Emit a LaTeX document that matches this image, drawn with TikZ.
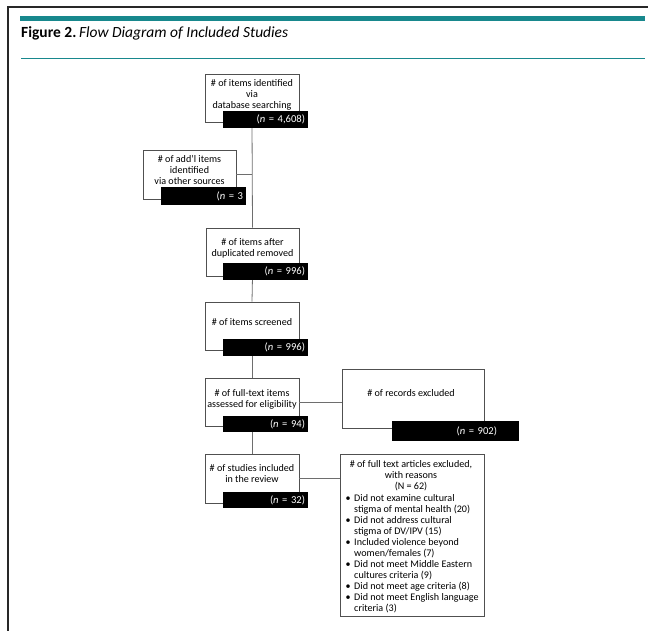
\documentclass[tikz,border=0pt]{standalone}
\usepackage{fontspec}
\setmainfont{Carlito}
\definecolor{figteal}{RGB}{24,136,141}
\definecolor{boxline}{RGB}{80,80,80}
\definecolor{connline}{RGB}{110,110,110}
\definecolor{framecol}{RGB}{40,40,40}

\begin{document}
\begin{tikzpicture}[x=1pt,y=-1pt,
	box/.style={draw=boxline,fill=white,line width=0.8pt,inner sep=0pt},
	bar/.style={fill=black,text=white,inner ysep=0pt,inner xsep=3pt,align=right,minimum height=17pt,font=\fontsize{10.6}{11}\selectfont},
	txt/.style={inner sep=0pt,align=center,font=\fontsize{10.1}{11}\selectfont},
	conn/.style={draw=connline,line width=0.8pt}]
	\useasboundingbox (0,0) rectangle (648,631);

	% frame and heading
	\draw[framecol,line width=1.4pt] (8,631) -- (8,7) -- (648,7);
	\fill[figteal] (20,16) rectangle (645,21.5);
	\draw[figteal,line width=0.8pt] (21,58) -- (645,58);
	\node[anchor=base west,inner sep=0pt,font=\fontsize{15.5}{15}\selectfont] (title) at (21,38) {\textbf{Figure 2.}\textit{\,Flow Diagram of Included Studies}};

	% boxes
	\node[box,minimum width=94pt,minimum height=48pt] (items) at (252,98) {};
	\node[box,minimum width=93pt,minimum height=49pt] (addl) at (189.5,174.5) {};
	\node[box,minimum width=93pt,minimum height=48pt] (dupl) at (252.5,252) {};
	\node[box,minimum width=94pt,minimum height=48pt] (screen) at (252,326) {};
	\node[box,minimum width=94pt,minimum height=48pt] (fulltext) at (252,402) {};
	\node[box,minimum width=94pt,minimum height=49pt] (incl) at (252,478.5) {};
	\node[box,minimum width=142pt,minimum height=59pt] (excl) at (413,398.5) {};
	\node[box,minimum width=144pt,minimum height=162pt] (reasons) at (412,535) {};

	% connectors
	\draw[conn] (items.south) -- (dupl.north);
	\draw[conn] (addl.east) -- (addl.east -| items.south);
	\draw[conn] (dupl.south) -- (screen.north);
	\draw[conn] (screen.south) -- (fulltext.north);
	\draw[conn] (fulltext.south) -- (incl.north);
	\draw[conn] (fulltext.east) -- (excl.west |- fulltext.east);
	\draw[conn] (incl.east) -- (reasons.west |- incl.east);

	% black count bars
	\node[bar,text width=79pt] (bar1) at (265.5,119.5) {(\textit{n} = 4,608)};
	\node[bar,text width=79pt,minimum height=18pt] (bar2) at (203.5,196) {(\textit{n} = 3};
	\node[bar,text width=79pt] (bar3) at (265.5,271.5) {(\textit{n} = 996)};
	\node[bar,text width=79pt] (bar4) at (265.5,347.5) {(\textit{n} = 996)};
	\node[bar,text width=79pt,minimum height=16pt] (bar5) at (265.5,424) {(\textit{n} = 94)};
	\node[bar,text width=79pt,minimum height=16pt] (bar6) at (265.5,500) {(\textit{n} = 32)};
	\node[bar,text width=121pt,minimum height=20pt] (bar7) at (455.5,431) {(\textit{n} = 902)\hspace*{19pt}};

	% box texts
	\node[txt,anchor=north] (itemstxt) at (252,79.5) {\# of items identified\\via\\database searching};
	\node[txt,anchor=north] (addltxt) at (189.5,155.5) {\# of add’l items\\identified\\via other sources};
	\node[txt,anchor=north] (dupltxt) at (252.5,238.5) {\# of items after\\duplicated removed};
	\node[txt,anchor=north] (screentxt) at (252,318.5) {\# of items screened};
	\node[txt,anchor=north] (fulltexttxt) at (252,389.5) {\# of full-text items\\assessed for eligibility};
	\node[txt,anchor=north] (excltxt) at (411,389.5) {\# of records excluded};
	\node[txt,anchor=north] (incltxt) at (252,464.5) {\# of studies included\\in the review};
	\node[txt,anchor=north] (reasonhead) at (411,460.5) {\# of full text articles excluded,\\with reasons\\(N = 62)};
	\node[txt,anchor=north west,align=left] (reasonlist) at (345.5,493.5) {\begin{tabular}{@{}l@{\hspace{3.5pt}}l@{}}
		\textbullet & Did not examine cultural\\
		 & stigma of mental health (20)\\
		\textbullet & Did not address cultural\\
		 & stigma of DV/IPV (15)\\
		\textbullet & Included violence beyond\\
		 & women/females (7)\\
		\textbullet & Did not meet Middle Eastern\\
		 & cultures criteria (9)\\
		\textbullet & Did not meet age criteria (8)\\
		\textbullet & Did not meet English language\\
		 & criteria (3)
	\end{tabular}};
\end{tikzpicture}
\end{document}
